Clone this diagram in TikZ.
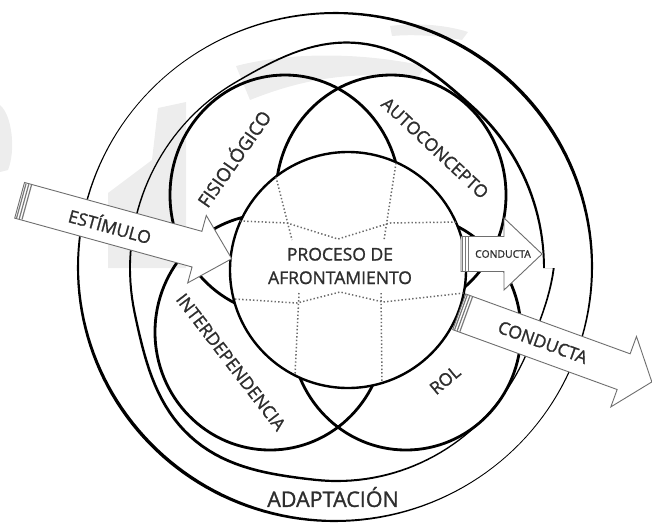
\documentclass[tikz,border=0pt]{standalone}
\usepackage{fontspec}
\setmainfont{Open Sans}[FakeBold=1.2]
\definecolor{ink}{HTML}{2E2E2E}
\definecolor{wmark}{HTML}{EDEDED}
\definecolor{edge}{HTML}{6E6E6E}
\definecolor{band}{HTML}{7A7A7A}
\begin{document}
\begin{tikzpicture}[x=1pt,y=-1pt,
  declare function={
    wa(\t)=2.1+1.3*cos(2*(\t-45));
    wb(\t)=2.0+0.8*cos(2*(\t-50));
    bump(\t)=13*pow(max(0,cos(2.5*(\t-228))),2);
  },
  petal/.style={line width=2.8pt},
  core/.style={line width=2.4pt, fill=white},
  gridline/.style={draw=black!58, line width=1.5pt, dash pattern=on 1.4pt off 2.2pt},
  blockarrow/.style={fill=white, draw=edge, line width=0.9pt, line join=miter},
  stripe/.style={draw=band, line width=1.2pt},
  lab/.style={text=ink, inner sep=0pt, font=\fontsize{17.5}{23.5}\selectfont},
  biglab/.style={text=ink, inner sep=0pt, font=\fontsize{21.5}{24}\selectfont},
  smalllab/.style={text=ink, inner sep=0pt, font=\fontsize{10.4}{12}\selectfont},
]
\useasboundingbox (0,0) rectangle (652,523);

% faint scan artefacts
\fill[wmark] (108,193) -- (152,160) -- (158,108) -- (186,102) -- (186,268) -- (108,268) -- cycle;
\fill[wmark] (236,66) .. controls (290,52) and (360,52) .. (425,66) -- (418,78) .. controls (350,70) and (300,80) .. (250,100) -- cycle;
\fill[wmark] (390,26) .. controls (420,22) and (450,26) .. (468,32) -- (462,40) .. controls (440,36) and (415,34) .. (392,36) -- cycle;
\fill[wmark] (0,105) .. controls (12,115) and (16,150) .. (8,170) -- (0,172) -- cycle;

% outer ring (two ellipses with brush-like width)
\fill[black, even odd rule]
  plot[domain=0:360, samples=181, variable=\t]
    ({335+(257+0.5*wa(\t))*cos(\t)}, {267-(254+0.5*wa(\t))*sin(\t)}) -- cycle
  plot[domain=0:360, samples=181, variable=\t]
    ({335+(257-0.5*wa(\t))*cos(\t)}, {267-(254-0.5*wa(\t))*sin(\t)}) -- cycle;
\fill[black, even odd rule]
  plot[domain=0:360, samples=181, variable=\t]
    ({337+(207+bump(\t)+0.5*wb(\t))*cos(\t)}, {268-(213+bump(\t)+0.5*wb(\t))*sin(\t)}) -- cycle
  plot[domain=0:360, samples=181, variable=\t]
    ({337+(207+bump(\t)-0.5*wb(\t))*cos(\t)}, {268-(213+bump(\t)-0.5*wb(\t))*sin(\t)}) -- cycle;

% four modes
\draw[petal] (285,195) ellipse [x radius=115pt, y radius=120pt];
\draw[petal] (391,195) ellipse [x radius=115pt, y radius=120pt];
\draw[petal] (270,332) ellipse [x radius=115pt, y radius=118pt];
\draw[petal] (406,332) ellipse [x radius=115pt, y radius=118pt];

% coping process
\draw[core] (348,270) circle [radius=118pt];
\draw[gridline] (240,221) -- (287,223) -- (338,239) -- (390,223) -- (458,222);
\draw[gridline] (235,299) -- (297,303) -- (340,292) -- (383,302) -- (464,293);
\draw[gridline] (276,177) -- (292,240);
\draw[gridline] (396,163) -- (384,240);
\draw[gridline] (299,293) -- (295,375);
\draw[gridline] (381,293) -- (382,382);

% stimulus arrow
\begin{scope}[shift={(19.6,200.3)}, rotate=-15.4]
  \draw[blockarrow] (0,18.5) -- (184,18.5) -- (184,35) -- (220,0) -- (184,-35) -- (184,-18.5) -- (0,-18.5) -- cycle;
  \foreach \s in {1.8,4.6,7.4} \draw[stripe] (\s,17.9) -- (\s,-17.9);
  \node[lab, rotate=-15.4] (stim) at (94,0) {ESTÍMULO};
\end{scope}

% small behaviour arrow
\begin{scope}[shift={(461,254)}]
  \draw[blockarrow] (0,17.5) -- (43,17.5) -- (43,36) -- (81,0) -- (43,-36) -- (43,-17.5) -- (0,-17.5) -- cycle;
  \foreach \s in {1.8,4.6,7.4} \draw[stripe] (\s,16.9) -- (\s,-16.9);
  \node[smalllab] (condsmall) at (42,0) {CONDUCTA};
\end{scope}

% large behaviour arrow
\begin{scope}[shift={(459.2,311.8)}, rotate=-20]
  \draw[blockarrow] (0,19) -- (175,19) -- (175,37.5) -- (205,0) -- (175,-37.5) -- (175,-19) -- (0,-19) -- cycle;
  \foreach \s in {1.8,4.6,7.4} \draw[stripe] (\s,18.4) -- (\s,-18.4);
  \node[lab, rotate=-20] (cond) at (89,0) {CONDUCTA};
\end{scope}

% labels
\node[lab, rotate=55, font=\fontsize{18.5}{22}\selectfont] (fis) at (233,158) {FISIOLÓGICO};
\node[lab, rotate=-43] (auto) at (435,148) {AUTOCONCEPTO};
\node[lab, rotate=-52.5] (inter) at (231,362) {INTERDEPENDENCIA};
\node[lab, rotate=40] (rol) at (445,380) {ROL};
\node[lab, align=center] (proc) at (340,266) {PROCESO DE\\AFRONTAMIENTO};
\node[biglab] (adap) at (333,497) {ADAPTACIÓN};
\end{tikzpicture}
\end{document}
